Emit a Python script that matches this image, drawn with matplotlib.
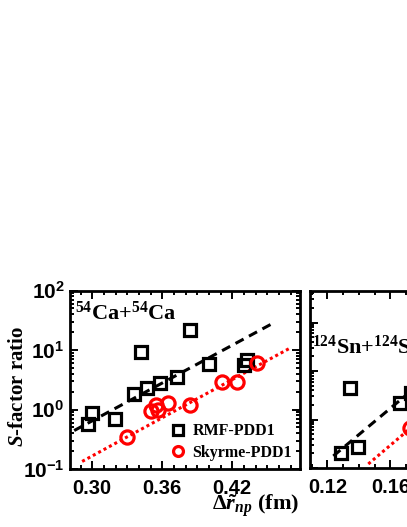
import math
import matplotlib
matplotlib.use("Agg")
import matplotlib.pyplot as plt
from matplotlib.ticker import FixedLocator, MultipleLocator, LogLocator, NullFormatter, FuncFormatter

# fonts: serif bold for text, sans bold for tick numbers
plt.rcParams['font.family'] = ['Liberation Serif', 'DejaVu Serif']
plt.rcParams['font.weight'] = 'bold'
plt.rcParams['mathtext.fontset'] = 'custom'
plt.rcParams['mathtext.rm'] = 'Liberation Serif:bold'
plt.rcParams['mathtext.it'] = 'Liberation Serif:italic:bold'
plt.rcParams['mathtext.bf'] = 'Liberation Serif:bold'
plt.rcParams['mathtext.sf'] = 'Liberation Sans:bold'

# ---- data ----
# 54Ca+54Ca panel
ca_rmf_x = [0.2966, 0.300, 0.3197, 0.336, 0.342, 0.3471, 0.3583, 0.3728, 0.384, 0.4003, 0.4302, 0.4328]
ca_rmf_y = [0.56, 0.89, 0.68, 1.79, 9.1, 2.34, 2.84, 3.45, 21.3, 5.93, 5.49, 6.92]
ca_sky_x = [0.330, 0.3506, 0.3548, 0.3566, 0.3651, 0.384, 0.4114, 0.4243, 0.4414]
ca_sky_y = [0.34, 0.96, 1.21, 1.00, 1.31, 1.21, 2.95, 2.95, 6.16]
ca_rmf_fit_x = [0.2846, 0.456]
ca_rmf_fit_y = [0.443, 29.0]
ca_sky_fit_x = [0.2914, 0.4688]
ca_sky_fit_y = [0.134, 10.6]

# 124Sn+124Sn panel (cut off at the right edge)
sn_rmf_x = [0.1289, 0.1397, 0.1346, 0.1663, 0.1733]
sn_rmf_y = [0.0204, 0.0272, 0.453, 0.222, 0.357]
sn_sky_x = [0.1727]
sn_sky_y = [0.067]
sn_rmf_fit_x = [0.1238, 0.200]
sn_rmf_fit_y = [0.0177, 2.08]
sn_sky_fit_x = [0.146, 0.200]
sn_sky_fit_y = [0.0121, 0.375]

ca_xticks = [0.30, 0.36, 0.42]
sn_xticks = [0.12, 0.16, 0.20]
ca_yticks = [0.1, 1, 10, 100]

W, H = 407, 527
fig = plt.figure(figsize=(W / 100, H / 100), dpi=100)

def px_axes(x0, x1, ytop, ybot):
    return fig.add_axes([x0 / W, (H - ybot) / H, (x1 - x0) / W, (ybot - ytop) / H])

ax1 = px_axes(70, 300, 290.5, 469)
ax2 = px_axes(310, 540, 290.5, 468)

sq = dict(marker='s', ms=9, mfc='none', mec='black', mew=2.3, ls='none')
ci = dict(marker='o', ms=9.5, mfc='none', mec='red', mew=2.3, ls='none')

for ax in (ax1, ax2):
    ax.set_yscale('log')
    for s in ax.spines.values():
        s.set_linewidth(2.0)
    ax.tick_params(which='both', direction='in', top=True, right=True, width=1.4)
    ax.tick_params(which='major', length=6)
    ax.tick_params(which='minor', length=3)
    ax.xaxis.set_minor_locator(MultipleLocator(0.01))
    ax.yaxis.set_minor_locator(LogLocator(base=10, subs=range(2, 10), numticks=20))
    ax.yaxis.set_minor_formatter(NullFormatter())

# left panel
ax1.plot(ca_rmf_fit_x, ca_rmf_fit_y, color='black', ls=(0, (3, 2)), lw=2.2)
ax1.plot(ca_sky_fit_x, ca_sky_fit_y, color='red', ls=(0, (1, 1)), lw=2.2)
ax1.plot(ca_rmf_x, ca_rmf_y, label='RMF-PDD1', **sq)
ax1.plot(ca_sky_x, ca_sky_y, label='Skyrme-PDD1', **ci)
ax1.set_xlim(0.281, 0.478)
ax1.set_ylim(0.1, 100)
ax1.xaxis.set_major_locator(FixedLocator(ca_xticks))
ax1.yaxis.set_major_locator(FixedLocator(ca_yticks))
ax1.xaxis.set_major_formatter(FuncFormatter(lambda v, p: f"{v:.2f}"))
ax1.yaxis.set_major_formatter(FuncFormatter(
    lambda v, p: r'$\mathsf{10^{%d}}$' % round(math.log10(v))))
for lab in ax1.get_xticklabels():
    lab.set_family('Liberation Sans')
    lab.set_fontweight('bold')
    lab.set_fontsize(14.5)
ax1.tick_params(axis='y', labelsize=15, pad=4)
ax1.tick_params(axis='x', pad=7)
ax1.text(0.02, 0.875, r'$^{\mathrm{54}}$Ca+$^{\mathrm{54}}$Ca', transform=ax1.transAxes,
         fontsize=16, fontweight='bold', va='center', ha='left')
ax1.legend(loc='lower right', frameon=False, prop={'size': 11.5, 'weight': 'bold'},
           handlelength=0.8, handletextpad=0.5, labelspacing=0.35,
           borderaxespad=0.1, markerscale=0.75)

# right panel
ax2.plot(sn_rmf_fit_x, sn_rmf_fit_y, color='black', ls=(0, (3, 2)), lw=2.2)
ax2.plot(sn_sky_fit_x, sn_sky_fit_y, color='red', ls=(0, (1, 1)), lw=2.2)
ax2.plot(sn_rmf_x, sn_rmf_y, **sq)
ax2.plot(sn_sky_x, sn_sky_y, **ci)
ax2.set_xlim(0.109, 0.255)
ax2.set_ylim(0.01, 46)
ax2.xaxis.set_major_locator(FixedLocator(sn_xticks))
ax2.yaxis.set_major_locator(LogLocator(base=10, numticks=10))
ax2.xaxis.set_major_formatter(FuncFormatter(lambda v, p: f"{v:.2f}"))
ax2.yaxis.set_major_formatter(NullFormatter())
for lab in ax2.get_xticklabels():
    lab.set_family('Liberation Sans')
    lab.set_fontweight('bold')
    lab.set_fontsize(14.5)
ax2.tick_params(axis='x', pad=7)
ax2.text(0.01, 0.68, r'$^{\mathrm{124}}$Sn+$^{\mathrm{124}}$Sn', transform=ax2.transAxes,
         fontsize=16, fontweight='bold', va='center', ha='left')

fig.text(0.043, 0.266, r'$S$-factor ratio', rotation=90, fontsize=15,
         fontweight='bold', ha='center', va='center')
fig.text(0.627, 0.030, r'$\Delta\tilde{r}_{np}$ (fm)', fontsize=16,
         fontweight='bold', ha='center', va='baseline')

fig.savefig("out.png", dpi=100)
